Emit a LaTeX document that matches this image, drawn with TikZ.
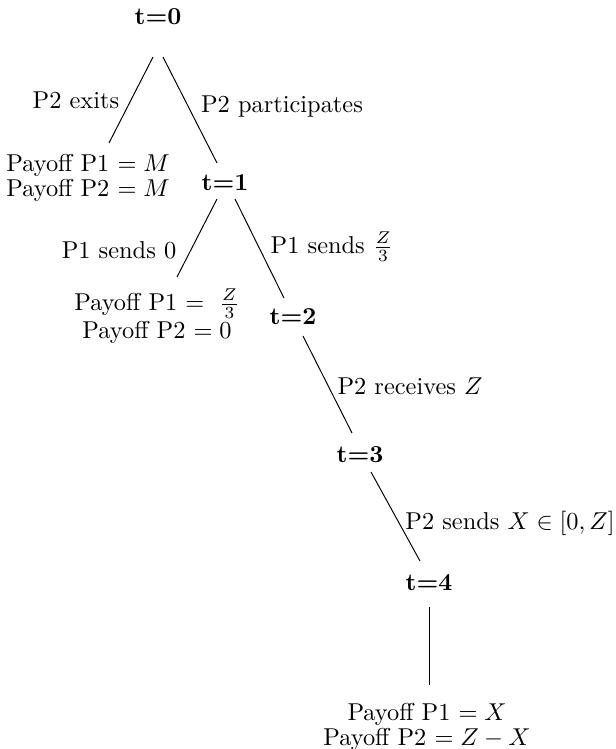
\documentclass[tikz,border=0pt]{standalone}
\usetikzlibrary{calc}
\begin{document}
\begin{tikzpicture}[x=0.41pt,y=-0.41pt,
  base/.style={font=\fontsize{10}{10.3}\selectfont, inner sep=0pt},
  tnode/.style={base, font=\fontsize{10}{10.3}\selectfont\bfseries},
  pay/.style={base, align=center},
  lab/.style={base},
  conn/.style={draw, line width=0.4pt}]
\useasboundingbox (0,0) rectangle (616,749);
% time nodes
\node[tnode] (t0) at (158,17) {t=0};
\node[tnode] (t1) at (225,183) {t=1};
\node[tnode] (t2) at (293,317) {t=2};
\node[tnode] (t3) at (360,455) {t=3};
\node[tnode] (t4) at (429,583) {t=4};
% payoff nodes
\node[pay] (pe) at (88,178) {Payoff P1 $=M$\\Payoff P2 $=M$};
\node[pay] (pz) at (157,316) {Payoff P1 $=\ \frac{Z}{3}$\\Payoff P2 $=0$};
\node[pay] (pf) at (427,727) {Payoff P1 $=X$\\Payoff P2 $=Z-X$};
% labels
\node[lab] (l1) at (76,100) {P2 exits};
\node[lab] (l2) at (282,107) {P2 participates};
\node[lab] (l3) at (119,250) {P1 sends 0};
\node[lab] (l4) at (332,247) {P1 sends $\frac{Z}{3}$};
\node[lab] (l5) at (410,386) {P2 receives $Z$};
\node[lab] (l6) at (510,523) {P2 sends $X\in[0,Z]$};
% connectors
\draw[conn] ($(t0)+(-5,40)$) -- ($(pe)+(21,-35)$);
\draw[conn] ($(t0)+(5,40)$) -- ($(t1)+(-8,-20)$);
\draw[conn] ($(t1)+(-8,16)$) -- ($(pz)+(20,-39)$);
\draw[conn] ($(t1)+(10,16)$) -- ($(t2)+(-9,-19)$);
\draw[conn] ($(t2)+(10,19)$) -- ($(t3)+(-8,-22)$);
\draw[conn] ($(t3)+(11,17)$) -- ($(t4)+(-9,-22)$);
\draw[conn] ($(t4)+(0,24)$) -- ($(pf)+(2,-42)$);
\end{tikzpicture}
\end{document}
